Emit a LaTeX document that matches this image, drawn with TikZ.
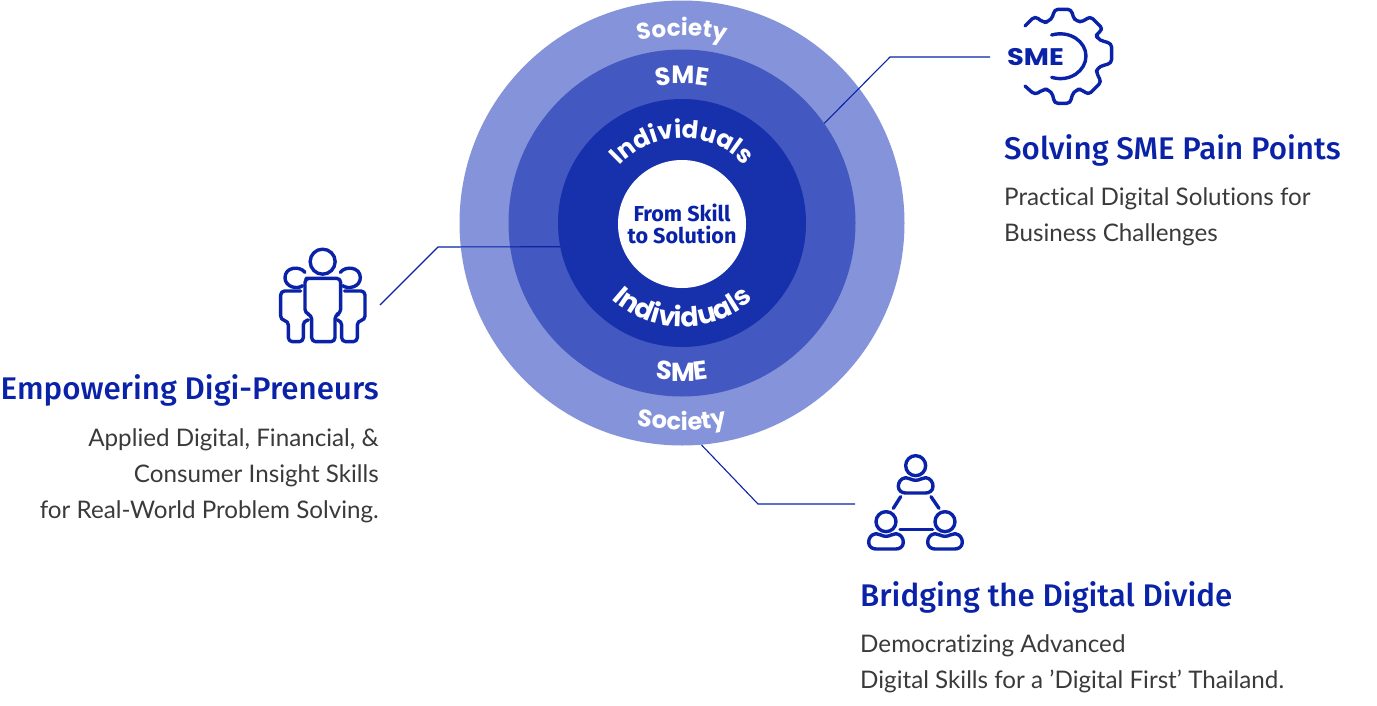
\documentclass[tikz,border=0pt]{standalone}
\usepackage{fontspec}
\usepackage{xcolor}
\usetikzlibrary{decorations.text}
\setmainfont{Lato}[Ligatures=NoCommon]
\newfontfamily\headfont{Fira Sans}[BoldFont=Fira Sans Medium]
\newfontfamily\hubfont{Fira Sans}
\newfontfamily\ringfont{Poppins}[BoldFont=Poppins Bold]
\definecolor{societyblue}{HTML}{8594DA}
\definecolor{smeblue}{HTML}{4358C0}
\definecolor{indivblue}{HTML}{1730AB}
\definecolor{inkblue}{HTML}{0A22A8}
\definecolor{bodygrey}{HTML}{3A3A3A}

\begin{document}
\begin{tikzpicture}[
    x=1pt, y=-1pt,
    ring/.style={circle, inner sep=0pt, minimum size=#1},
    leader/.style={draw=inkblue, line width=1.1pt},
    icon/.style={draw=inkblue, line width=3.4pt, line join=round, line cap=round},
    headline/.style={inner sep=0pt, anchor=base west, text=inkblue, font=\headfont\fontsize{31.3}{36}\selectfont\bfseries},
    bodytext/.style={inner sep=0pt, text=bodygrey, font=\fontsize{24.2}{36}\selectfont},
]
\useasboundingbox (0,0) rectangle (1377,705);

% rings
\node[ring=445pt, fill=societyblue] (society) at (682,223) {};
\node[ring=347pt, fill=smeblue] (sme) at (682,223) {};
\node[ring=248pt, fill=indivblue] (individuals) at (682,223) {};
\node[ring=128pt, fill=white, align=center, text=inkblue, font=\hubfont\fontsize{21.6}{22}\selectfont\bfseries] (hub) at (682,224) {From Skill\\to Solution};

% ring labels
\foreach \rad/\word/\size in {187pt/Society/23, 139pt/SME/25, 85pt/Individuals/24.5}
  \path[postaction={decorate, decoration={text along path, text align=center, text={|\ringfont\bfseries\fontsize{\size}{\size}\selectfont\color{white}|\word}}}]
    ([shift={(180:\rad)}]sme.center) arc[start angle=180, end angle=0, radius=\rad];
\foreach \rad/\word/\size in {207pt/Society/24, 158pt/SME/26, 104pt/Individuals/27}
  \path[postaction={decorate, decoration={text along path, text align=center, text={|\ringfont\bfseries\fontsize{\size}{\size}\selectfont\color{white}|\word}}}]
    ([shift={(180:\rad)}]sme.center) arc[start angle=180, end angle=360, radius=\rad];

% free ends of leaders
\coordinate (gearend) at (990,57);
\coordinate (peopleend) at (380,305);
\coordinate (netend) at (855,504);
\draw[leader] (sme.35) -- (890,57) -- (gearend);
\draw[leader] (individuals.191) -- (438,247) -- (peopleend);
\draw[leader] (society.-85) -- (758,504) -- (netend);

% texts
\node[headline] (soltitle) at (1004,159) {Solving SME Pain Points};
\node[bodytext, anchor=north west, align=left] (soltext) at (1004,187) {Practical Digital Solutions for\\Business Challenges};
\node[headline, anchor=base east] (emptitle) at (379,399) {Empowering Digi-Preneurs};
\node[bodytext, anchor=north east, align=right] (emptext) at (379,428) {Applied Digital, Financial, \&\\Consumer Insight Skills\\for Real-World Problem Solving.};
\node[headline] (brititle) at (860,606) {Bridging the Digital Divide};
\node[bodytext, anchor=north west, align=left] (britext) at (860,634) {Democratizing Advanced\\Digital Skills for a \symbol{39}Digital First\symbol{39} Thailand.};

% gear icon
\node[text=inkblue, inner sep=0pt, font=\ringfont\fontsize{24}{24}\selectfont\bfseries] (smeword) at (1035.5,57) {\scalebox{1.14}[1]{SME}};
\begin{scope}[shift={(980,0)}, x=0.3333pt, y=-0.3333pt]
\draw[icon, rounded corners=4pt] (135,258) -- (165,285) -- (190,268) -- (205,268) -- (220,285) -- (222,310) -- (272,310) -- (275,285) -- (290,268) -- (305,268) -- (325,285) -- (365,245) -- (350,222) -- (350,205) -- (372,195) -- (395,190) -- (395,130) -- (372,125) -- (350,115) -- (350,100) -- (370,88) -- (330,48) -- (310,65) -- (290,65) -- (278,50) -- (275,28) -- (222,28) -- (220,50) -- (205,65) -- (190,68) -- (165,48) -- (135,78);
\draw[icon] (215,105) .. controls (270,90) and (318,125) .. (318,168) .. controls (318,212) and (270,248) .. (215,232);
\end{scope}

% people icon
\begin{scope}[shift={(260,235)}, x=0.3333pt, y=-0.3333pt]
\draw[icon] (188,80) circle[radius=12.5pt];
\draw[icon, rounded corners=4pt] (150,130) -- (242,130) -- (242,235) -- (225,240) -- (225,320) -- (155,320) -- (155,240) -- (135,235) -- (135,130) -- cycle;
\draw[icon] (135,112) .. controls (120,92) and (75,95) .. (75,128) .. controls (75,155) and (110,165) .. (128,152);
\draw[icon, rounded corners=4pt] (122,168) -- (62,168) -- (62,255) -- (85,258) -- (85,320) -- (130,320) -- (130,258) -- (145,255);
\draw[icon] (241,112) .. controls (256,92) and (301,95) .. (301,128) .. controls (301,155) and (266,165) .. (248,152);
\draw[icon, rounded corners=4pt] (254,168) -- (315,168) -- (315,255) -- (292,258) -- (292,320) -- (245,320) -- (245,258) -- (232,255);
\end{scope}

% network icon
\begin{scope}[shift={(850,445)}, x=0.3333pt, y=-0.3333pt]
\foreach \cx/\cy in {197/0, 108/168, 285/168} {
  \draw[icon] (\cx,62+\cy) circle[radius=10pt];
  \draw[icon] (\cx,106+\cy) .. controls (\cx-12,106+\cy) and (\cx-20,98+\cy) .. (\cx-30,98+\cy) .. controls (\cx-45,100+\cy) and (\cx-52,112+\cy) .. (\cx-52,124+\cy) .. controls (\cx-52,138+\cy) and (\cx-40,144+\cy) .. (\cx-30,144+\cy) -- (\cx+30,144+\cy) .. controls (\cx+40,144+\cy) and (\cx+52,138+\cy) .. (\cx+52,124+\cy) .. controls (\cx+52,112+\cy) and (\cx+45,100+\cy) .. (\cx+30,98+\cy) .. controls (\cx+20,98+\cy) and (\cx+12,106+\cy) .. (\cx,106+\cy) -- cycle;
}
\draw[icon] (152,155) -- (130,190);
\draw[icon] (243,155) -- (267,190);
\draw[icon] (150,254) -- (248,254);
\end{scope}
\end{tikzpicture}
\end{document}
